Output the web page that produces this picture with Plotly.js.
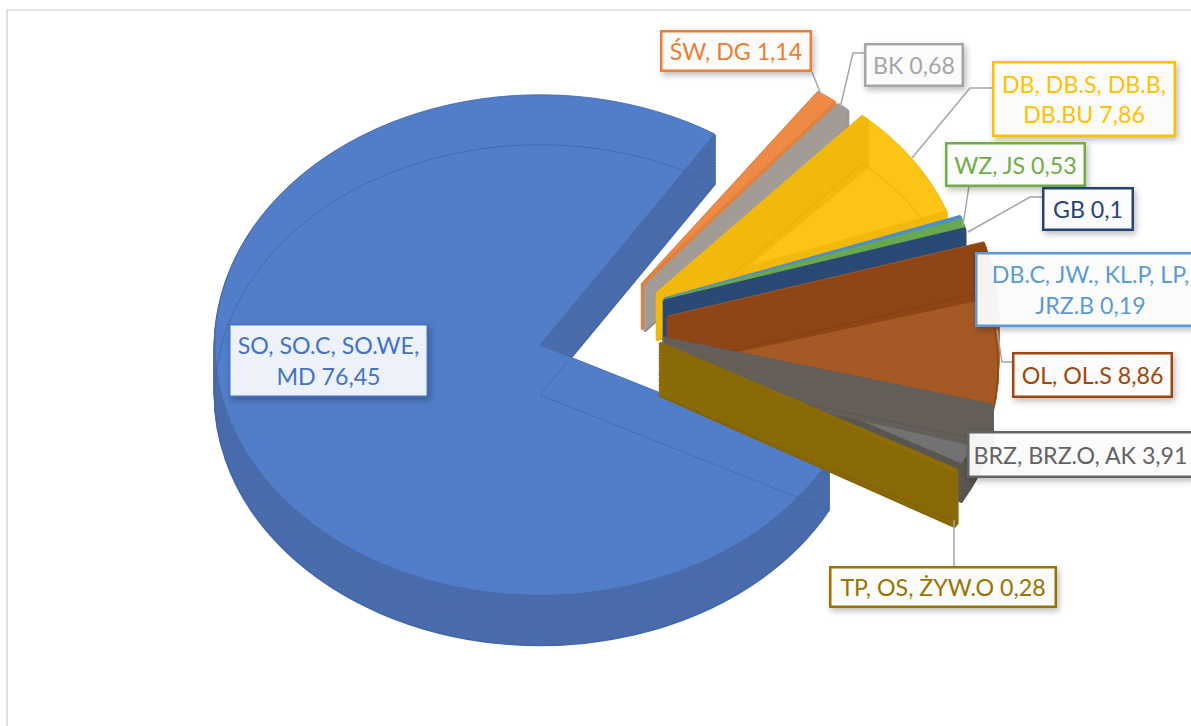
<!DOCTYPE html>
<html>
<head>
<meta charset="utf-8">
<script src="https://cdn.plot.ly/plotly-3.0.1.min.js"></script>
<style>
html,body{margin:0;padding:0;background:#fff;overflow:hidden}
#chart{width:1191px;height:726px}
.annotation .bg{filter:drop-shadow(2px 3px 3px rgba(0,0,0,.28))}
.pielayer path{stroke-linejoin:round}
</style>
</head>
<body>
<div id="chart"></div>
<script>
// ---- data ----
var labels = ["SO, SO.C, SO.WE,<br>MD 76,45","ŚW, DG 1,14","BK 0,68","DB, DB.S, DB.B,<br>DB.BU 7,86",
  "DB.C, JW., KL.P, LP,<br>JRZ.B 0,19","WZ, JS 0,53","GB 0,1","OL, OL.S 8,86","BRZ, BRZ.O, AK 3,91","TP, OS, ŻYW.O 0,28"];
var values = [76.45,1.14,0.68,7.86,0.19,0.53,0.1,8.86,3.91,0.28];

// ---- style ----
var WIDTH = 1191, HEIGHT = 726;
var textColors = ["#4472c4","#ed7d31","#a5a5a5","#ffc000","#5b9bd5","#70ad47","#264478","#9e480e","#636363","#997300"];
var faceColors = ["#527dc8","#ee8a44","#aaa7a3","#fcc417","#4a8fd0","#6aa84f","#2a4a75","#a55a25","#727272","#8f6e0a"];
var wallColors = ["#4a6cab","#e0803e","#9f9890","#f1b90c","#4a8fd0","#6aa84f","#2a4a75","#a55a25","#5a5652","#8a6a08"];
var lineColors = ["rgba(58,98,170,.75)","#d87a38","#8f8a85","#e2ab0c","#4a8fd0","#6aa84f","#2a4a75","#84400f","#5a5652","#7d6006"];
var bandColors = [null,null,"#a39c96","#f1b90c",null,null,null,"#8f4516","#655f59",null];
var centerX = [540,642,645,657,664,664,664,668,664,660];
var centerY = [345,283,285,292,298,299,300,316,337,342];
var radiusX = [325,305,305,308,315,315,315,330,340,340];
var depth   = [50,46,46,48,46,46,46,50,38,54];
var startAngle = [117.3,120,120,120,120,120,120,120,120,120];
var SX = 2, SY = 1.54, LAYERS = 32, BAND_WEDGE = 0.4;

var boxes = [[228,323,428,397],[660,31,811,72],[864,44,963,87],[992,62,1175,137],[975,252,1205,326],
  [945,142,1085,186],[1042,187,1133,230],[1012,352,1172,397],[967,431,1193,477],[829,566,1056,607]];
var leaders = [[[812,72],[822,97]],[[864,53],[853,53],[840,108]],[[992,88],[970,88],[912,158]],
  [[969,186],[963,225]],[[1042,197],[1030,197],[968,232]],[[1012,362],[1002,362],[997,330]],[[954,520],[954,566]]];

// ---- build ----
function layer(i, value, rot, offset, color, lineColor, lineW){
  var r = radiusX[i]/SX;
  var cx = centerX[i]/SX, cy = (centerY[i]+offset)/SY;
  return {
    type:'pie', sort:false, direction:'clockwise', rotation:rot,
    values:[value, 100-value], textinfo:'none', hoverinfo:'skip', showlegend:false,
    domain:{x:[(cx-r)/WIDTH,(cx+r)/WIDTH], y:[1-(cy+r)/HEIGHT,1-(cy-r)/HEIGHT]},
    marker:{colors:[color,'rgba(0,0,0,0)'], line:{color:[lineColor,'rgba(0,0,0,0)'], width:[lineW,0]}}
  };
}
var traces = [], cum = 0;
values.forEach(function(v,i){
  var rot = startAngle[i] + cum*3.6; if (rot>360) rot -= 360;
  var k;
  for (k=LAYERS;k>=1;k--) traces.push(layer(i,v,rot,depth[i]*k/LAYERS,wallColors[i],wallColors[i],1.3));
  traces.push(layer(i,v,rot,0,faceColors[i],wallColors[i],0.5));
  // far wall seen through the translucent top face
  if (bandColors[i]) for (k=LAYERS;k>=1;k--) traces.push(layer(i,BAND_WEDGE,rot,depth[i]*k/LAYERS,bandColors[i],bandColors[i],1.3));
  // outline of the lower face seen through the top face
  traces.push(layer(i,v,rot,depth[i],'rgba(0,0,0,0)',lineColors[i],0.5));
  cum += v;
});

function fx(p){return p/WIDTH} function fy(p){return 1-p/HEIGHT}
var annotations = labels.map(function(t,i){
  var b = boxes[i];
  return {xref:'paper',yref:'paper',x:fx((b[0]+b[2])/2),y:fy((b[1]+b[3])/2),xanchor:'center',yanchor:'middle',
    text:t,showarrow:false,align:'center',valign:'middle',width:b[2]-b[0]-4,height:b[3]-b[1]-4,borderpad:0,
    borderwidth:i===0?1.5:2.5,bordercolor:i===0?'#4472c4':textColors[i],bgcolor:i===0?'rgba(236,241,250,1)':'rgba(255,255,255,.94)',
    font:{family:'Lato, "Open Sans", sans-serif',size:23.2,color:textColors[i]}};
});
var shapes = [{type:'path',xref:'paper',yref:'paper',
  path:'M '+fx(7)+' '+fy(726)+' L '+fx(7)+' '+fy(10)+' L '+fx(1191)+' '+fy(10),
  line:{color:'#d9d9d9',width:1.5}}];
leaders.forEach(function(pts){
  shapes.push({type:'path',xref:'paper',yref:'paper',
    path:pts.map(function(p,j){return (j?'L ':'M ')+fx(p[0])+' '+fy(p[1])}).join(' '),
    line:{color:'#a6a6a6',width:1.5}});
});

Plotly.newPlot('chart',traces,{
  width:WIDTH,height:HEIGHT,margin:{l:0,r:0,t:0,b:0},paper_bgcolor:'#fff',showlegend:false,
  annotations:annotations,shapes:shapes
},{staticPlot:true,displayModeBar:false}).then(function(gd){
  // the pie marks are circular; the reference is a tilted (elliptical) pie
  document.querySelector('#chart .pielayer').setAttribute('transform','matrix('+SX+',0,0,'+SY+',0,0)');
});
</script>
</body>
</html>
